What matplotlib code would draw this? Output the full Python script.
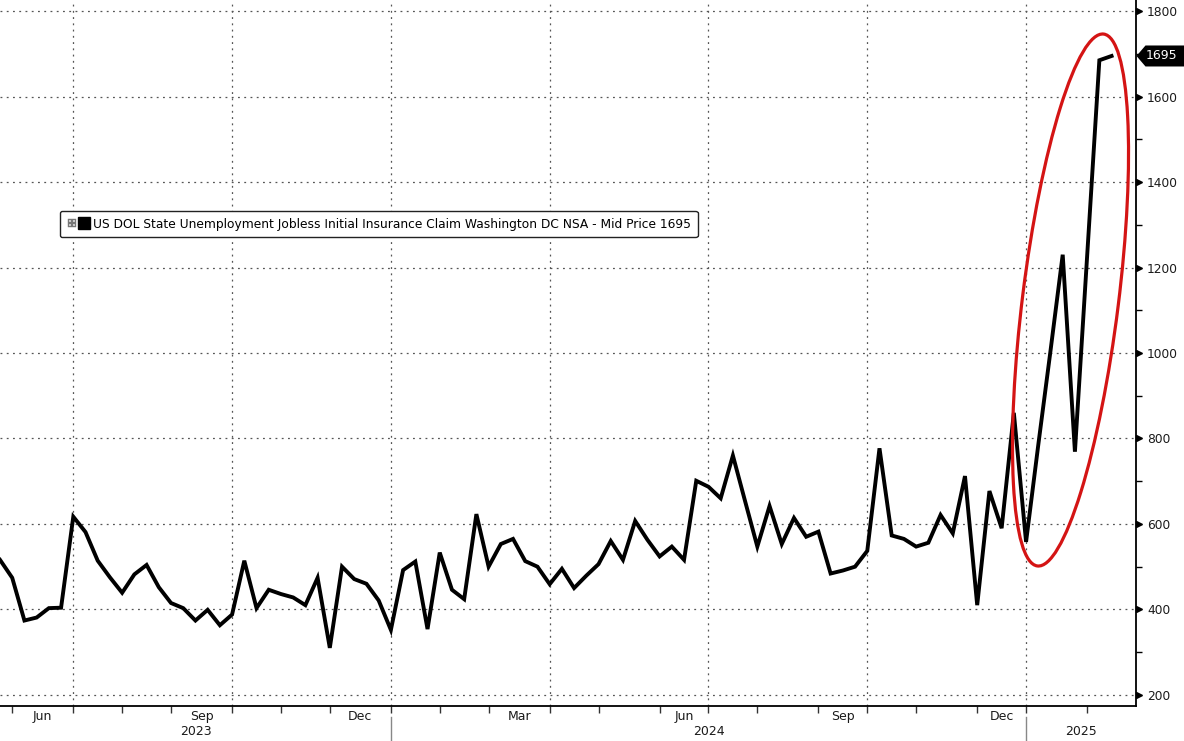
import numpy as np
import pandas as pd
import matplotlib
matplotlib.use("Agg")
import matplotlib.pyplot as plt
import matplotlib.transforms as mtransforms
from matplotlib.patches import Ellipse, Polygon
from matplotlib.lines import Line2D
from matplotlib.legend_handler import HandlerTuple

plt.rcParams['font.family'] = ['DejaVu Sans']

# weekly initial claims, Washington DC, NSA (week ending saturday)
claims = [516, 474, 374, 381, 403, 404, 617, 581, 514, 475,
          439, 482, 504, 452, 415, 403, 374, 399, 363, 388,
          514, 403, 446, 436, 428, 410, 474, 310, 500, 471,
          460, 421, 352, 492, 512, 354, 533, 446, 424, 623,
          500, 553, 565, 513, 500, 459, 495, 450, 479, 506,
          560, 516, 607, 563, 524, 547, 516, 701, 687, 660,
          760, 653, 547, 642, 553, 614, 570, 582, 484, 491,
          500, 537, 777, 573, 565, 547, 556, 621, 578, 712,
          410, 677, 590, 860, 558, 785, 1005, 1230, 769, 1227,
          1685, 1695]
weeks = pd.date_range('2023-05-20', periods=len(claims), freq='W-SAT')
series_name = "US DOL State Unemployment Jobless Initial Insurance Claim Washington DC NSA - Mid Price 1695"
last_value = claims[-1]
y_major = [200, 400, 600, 800, 1000, 1200, 1400, 1600, 1800]
y_minor = [300, 500, 700, 900, 1100, 1300, 1500, 1700]
month_names = {3: 'Mar', 6: 'Jun', 9: 'Sep', 12: 'Dec'}

x = np.arange(len(claims))


def pos(d):
    # bloomberg puts month marks on the last weekly point before the month starts
    return weeks.searchsorted(pd.Timestamp(d), side='right') - 1


month_starts = pd.date_range('2023-06-01', '2025-02-01', freq='MS')
month_pos = [pos(m) for m in month_starts]
quarter_pos = [pos(m) for m in month_starts if m.month in (1, 4, 7, 10)]
label_pos = []
label_txt = []
for m in month_starts:
    if m.month in month_names:
        label_pos.append((pos(m) + pos(m + pd.offsets.MonthBegin(1))) / 2)
        label_txt.append(month_names[m.month])

fig = plt.figure(figsize=(11.84, 7.41), dpi=100)
ax = fig.add_axes([0, 35 / 741, 1136 / 1184, 706 / 741])
ax.set_xlim(0, 93)
ax.set_ylim(174, 1826)

grid_style = dict(color='#555555', lw=0.9, ls=(0, (1.5, 3.5)), zorder=1)
for v in y_major:
    ax.axhline(v, **grid_style)
for q in quarter_pos:
    ax.axvline(q, **grid_style)

ax.plot(x, claims, color='black', lw=2.8, solid_joinstyle='miter', zorder=3)

for s in ['top', 'left']:
    ax.spines[s].set_visible(False)
ax.spines['right'].set_linewidth(1.3)
ax.spines['bottom'].set_linewidth(1.3)

# right axis
ax.yaxis.tick_right()
ax.set_yticks(y_major)
ax.set_yticks(y_minor, minor=True)
ax.tick_params(axis='y', which='major', length=0, pad=8, labelsize=8.8, labelcolor='#1a1a1a')
ax.tick_params(axis='y', which='minor', length=4, width=1, direction='out')
tri = mtransforms.offset_copy(ax.get_yaxis_transform(), fig=fig, x=3, units='dots')
ax.plot([1] * len(y_major), y_major, marker='>', ms=5, color='black', ls='none',
        transform=tri, clip_on=False)

# bottom axis
ax.set_xticks(month_pos)
ax.tick_params(axis='x', which='major', length=5, width=1, color='#333333', labelbottom=False)
xt = ax.get_xaxis_transform()
for p, t in zip(label_pos, label_txt):
    ax.text(p, -0.0142, t, transform=xt, ha='center', va='center', fontsize=9, color='#1a1a1a')
year_bounds = [0, pos('2024-01-01'), pos('2025-01-01'), 93]
for i, yr in enumerate(['2023', '2024', '2025']):
    ax.text((year_bounds[i] + year_bounds[i + 1]) / 2, -0.036, yr, transform=xt,
            ha='center', va='center', fontsize=9, color='#1a1a1a')
for p in year_bounds[1:3]:
    ax.add_line(Line2D([p, p], [-0.016, -0.06], transform=xt, color='#888888', lw=1, clip_on=False))

# legend
icon = Line2D([], [], marker='$\\boxplus$', color='#777777', ls='none', ms=6, mew=0.3)
sq = Line2D([], [], marker='s', color='black', ls='none', ms=8)
leg = ax.legend([(icon, sq)], [series_name], handler_map={tuple: HandlerTuple(ndivide=None, pad=0.2)},
                loc='upper left', bbox_to_anchor=(60 / 1184, 1 - 211 / 741), bbox_transform=fig.transFigure,
                borderaxespad=0, fontsize=8.8, handlelength=1.8, handletextpad=0.35, borderpad=0.55,
                fancybox=True, framealpha=1, edgecolor='#222222')
leg.get_frame().set_linewidth(1)

# red ellipse around the jump
ell_trans = fig.dpi_scale_trans + mtransforms.ScaledTranslation(87.64, 1124, ax.transData)
ax.add_patch(Ellipse((0, 0), width=0.96, height=5.36, angle=-7.1, transform=ell_trans,
                     fill=False, ec='#d41414', lw=2.3, clip_on=False, zorder=4))

# last value tag
tag_trans = fig.dpi_scale_trans + mtransforms.ScaledTranslation(1, last_value, ax.get_yaxis_transform())
ax.add_patch(Polygon([(0.005, 0), (0.095, 0.105), (0.6, 0.105), (0.6, -0.105), (0.095, -0.105)],
                     closed=True, fc='black', ec='none', transform=tag_trans, clip_on=False))
ax.text(1, last_value, str(last_value), color='white', fontsize=9, va='center', ha='left',
        transform=mtransforms.offset_copy(ax.get_yaxis_transform(), fig=fig, x=10, units='dots'))

fig.savefig('out.png', dpi=100)
